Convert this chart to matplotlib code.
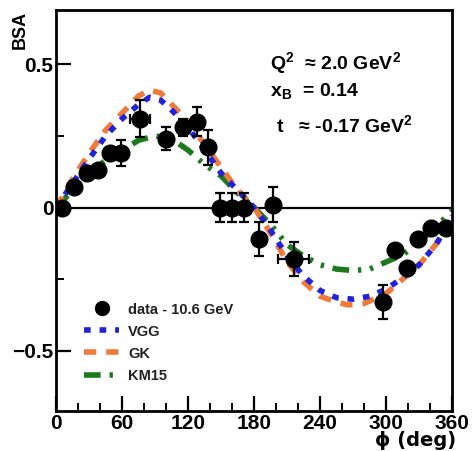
import numpy as np
import matplotlib
matplotlib.use('Agg')
import matplotlib.pyplot as plt
from matplotlib.ticker import MultipleLocator
from matplotlib.lines import Line2D

plt.rcParams['font.family'] = ['Liberation Sans', 'DejaVu Sans']
plt.rcParams['mathtext.fontset'] = 'custom'
plt.rcParams['mathtext.rm'] = 'Liberation Sans'
plt.rcParams['mathtext.bf'] = 'Liberation Sans:bold'

# データ点 (phi [deg], BSA, 誤差)
phi_data = [5, 16, 28, 38, 49, 59, 76, 100, 115, 128, 138, 149, 160, 171,
            184, 197, 216, 297, 308, 319, 329, 341, 354]
bsa_data = [0.0, 0.07, 0.12, 0.13, 0.19, 0.19, 0.31, 0.24, 0.28, 0.30, 0.21,
            0.0, 0.0, 0.0, -0.11, 0.01, -0.18, -0.33, -0.15, -0.21, -0.11,
            -0.07, -0.07]
bsa_err = [0.01, 0.01, 0.01, 0.01, 0.02, 0.045, 0.065, 0.04, 0.03, 0.05, 0.06,
           0.05, 0.05, 0.05, 0.06, 0.06, 0.06, 0.06, 0.02, 0.01, 0.01, 0.01, 0.01]
phi_err = [0, 0, 0, 0, 0, 0, 9, 0, 0, 0, 0, 0, 0, 0,
           0, 0, 14, 0, 0, 0, 0, 0, 0]

# モデル曲線
phi_vgg = [0, 15, 30, 45, 60, 75, 85, 95, 105, 120, 135, 150, 165, 180,
           195, 210, 225, 240, 255, 270, 285, 300, 315, 330, 345, 355, 360]
bsa_vgg = [0.0, 0.085, 0.17, 0.25, 0.31, 0.36, 0.385, 0.375, 0.34, 0.28, 0.20,
           0.12, 0.06, 0.0, -0.08, -0.17, -0.24, -0.29, -0.315, -0.32, -0.31,
           -0.285, -0.245, -0.20, -0.13, -0.07, -0.03]

phi_gk = [0, 15, 30, 45, 60, 75, 85, 95, 105, 120, 135, 150, 165, 180,
          195, 210, 225, 240, 255, 265, 280, 300, 315, 330, 345, 355, 360]
bsa_gk = [0.0, 0.10, 0.19, 0.27, 0.33, 0.39, 0.41, 0.40, 0.36, 0.30, 0.22,
          0.14, 0.06, 0.0, -0.09, -0.19, -0.26, -0.31, -0.33, -0.34, -0.335,
          -0.30, -0.25, -0.20, -0.13, -0.08, -0.03]

phi_km = [0, 15, 30, 45, 60, 75, 90, 105, 120, 135, 150, 165, 180,
          195, 210, 225, 240, 255, 270, 285, 300, 315, 330, 345, 360]
bsa_km = [0.0, 0.06, 0.12, 0.165, 0.20, 0.235, 0.25, 0.24, 0.20, 0.15, 0.11,
          0.05, 0.0, -0.06, -0.13, -0.17, -0.20, -0.215, -0.22, -0.215, -0.19,
          -0.165, -0.12, -0.07, -0.01]

fig = plt.figure(figsize=(4.72, 4.51), dpi=100)
ax = fig.add_axes([0.119, 0.089, 0.839, 0.889])

ax.axhline(0, color='black', linewidth=1.6, zorder=1)

ln_km, = ax.plot(phi_km, bsa_km, color='#1c7a1c', linewidth=4,
                 dashes=(3, 1.6, 0.6, 1.6, 0.6, 1.6), zorder=2)
ln_gk, = ax.plot(phi_gk, bsa_gk, color='#f07a3a', linewidth=4,
                 dashes=(2.2, 1.8), zorder=2)
ln_vgg, = ax.plot(phi_vgg, bsa_vgg, color='#2222d8', linewidth=4,
                  dashes=(1.2, 1.6), zorder=3)

ax.errorbar(phi_data, bsa_data, yerr=bsa_err, xerr=phi_err, fmt='o',
            color='black', markersize=12, elinewidth=1.6, capsize=3.5,
            capthick=1.6, zorder=4)

ax.set_xlim(0, 360)
ax.set_ylim(-0.71, 0.69)
ax.set_xticks([0, 60, 120, 180, 240, 300, 360])
ax.set_xticklabels(['0', '60', '120', '180', '240', '300', '360'])
ax.xaxis.set_minor_locator(MultipleLocator(20))
ax.set_yticks([-0.5, 0, 0.5])
ax.set_yticklabels(['\u22120.5', '0', '0.5'])
ax.yaxis.set_minor_locator(MultipleLocator(0.25))

ax.tick_params(axis='both', which='major', direction='in', length=11,
               width=1.6, labelsize=15, pad=2)
ax.tick_params(axis='both', which='minor', direction='in', length=6,
               width=1.4)
ax.tick_params(axis='x', which='both', top=False)
ax.tick_params(axis='y', which='both', right=False)
for lab in ax.get_xticklabels() + ax.get_yticklabels():
    lab.set_fontweight('bold')
for sp in ax.spines.values():
    sp.set_linewidth(2)

fig.text(0.966, 0.002, '\u03d5 (deg)', ha='right', va='bottom', fontsize=14,
         fontweight='bold', family=['DejaVu Sans'])
fig.text(0.042, 0.975, 'BSA', rotation=90, ha='center', va='top', fontsize=13,
         fontweight='bold')

ax.text(0.54, 0.865, 'Q$^{\\mathbf{2}}$  \u2248 2.0 GeV$^{\\mathbf{2}}$',
        transform=ax.transAxes, fontsize=14, fontweight='bold', va='center')
ax.text(0.54, 0.795, 'x$_{\\mathbf{B}}$  = 0.14', transform=ax.transAxes,
        fontsize=14, fontweight='bold', va='center')
ax.text(0.555, 0.71, 't   \u2248 -0.17 GeV$^{\\mathbf{2}}$',
        transform=ax.transAxes, fontsize=14, fontweight='bold', va='center')

dot = Line2D([], [], marker='o', color='black', linestyle='none', markersize=10)
leg = ax.legend([dot, ln_vgg, ln_gk, ln_km],
                ['data - 10.6 GeV', 'VGG', 'GK', 'KM15'],
                loc='lower left', bbox_to_anchor=(0.045, 0.045), frameon=False,
                prop={'size': 10.5, 'weight': 'bold'}, handlelength=2.4,
                labelspacing=0.55, handletextpad=0.6, borderpad=0.2)
for t in leg.get_texts():
    t.set_color('#222222')

plt.savefig('out.png', dpi=100)
